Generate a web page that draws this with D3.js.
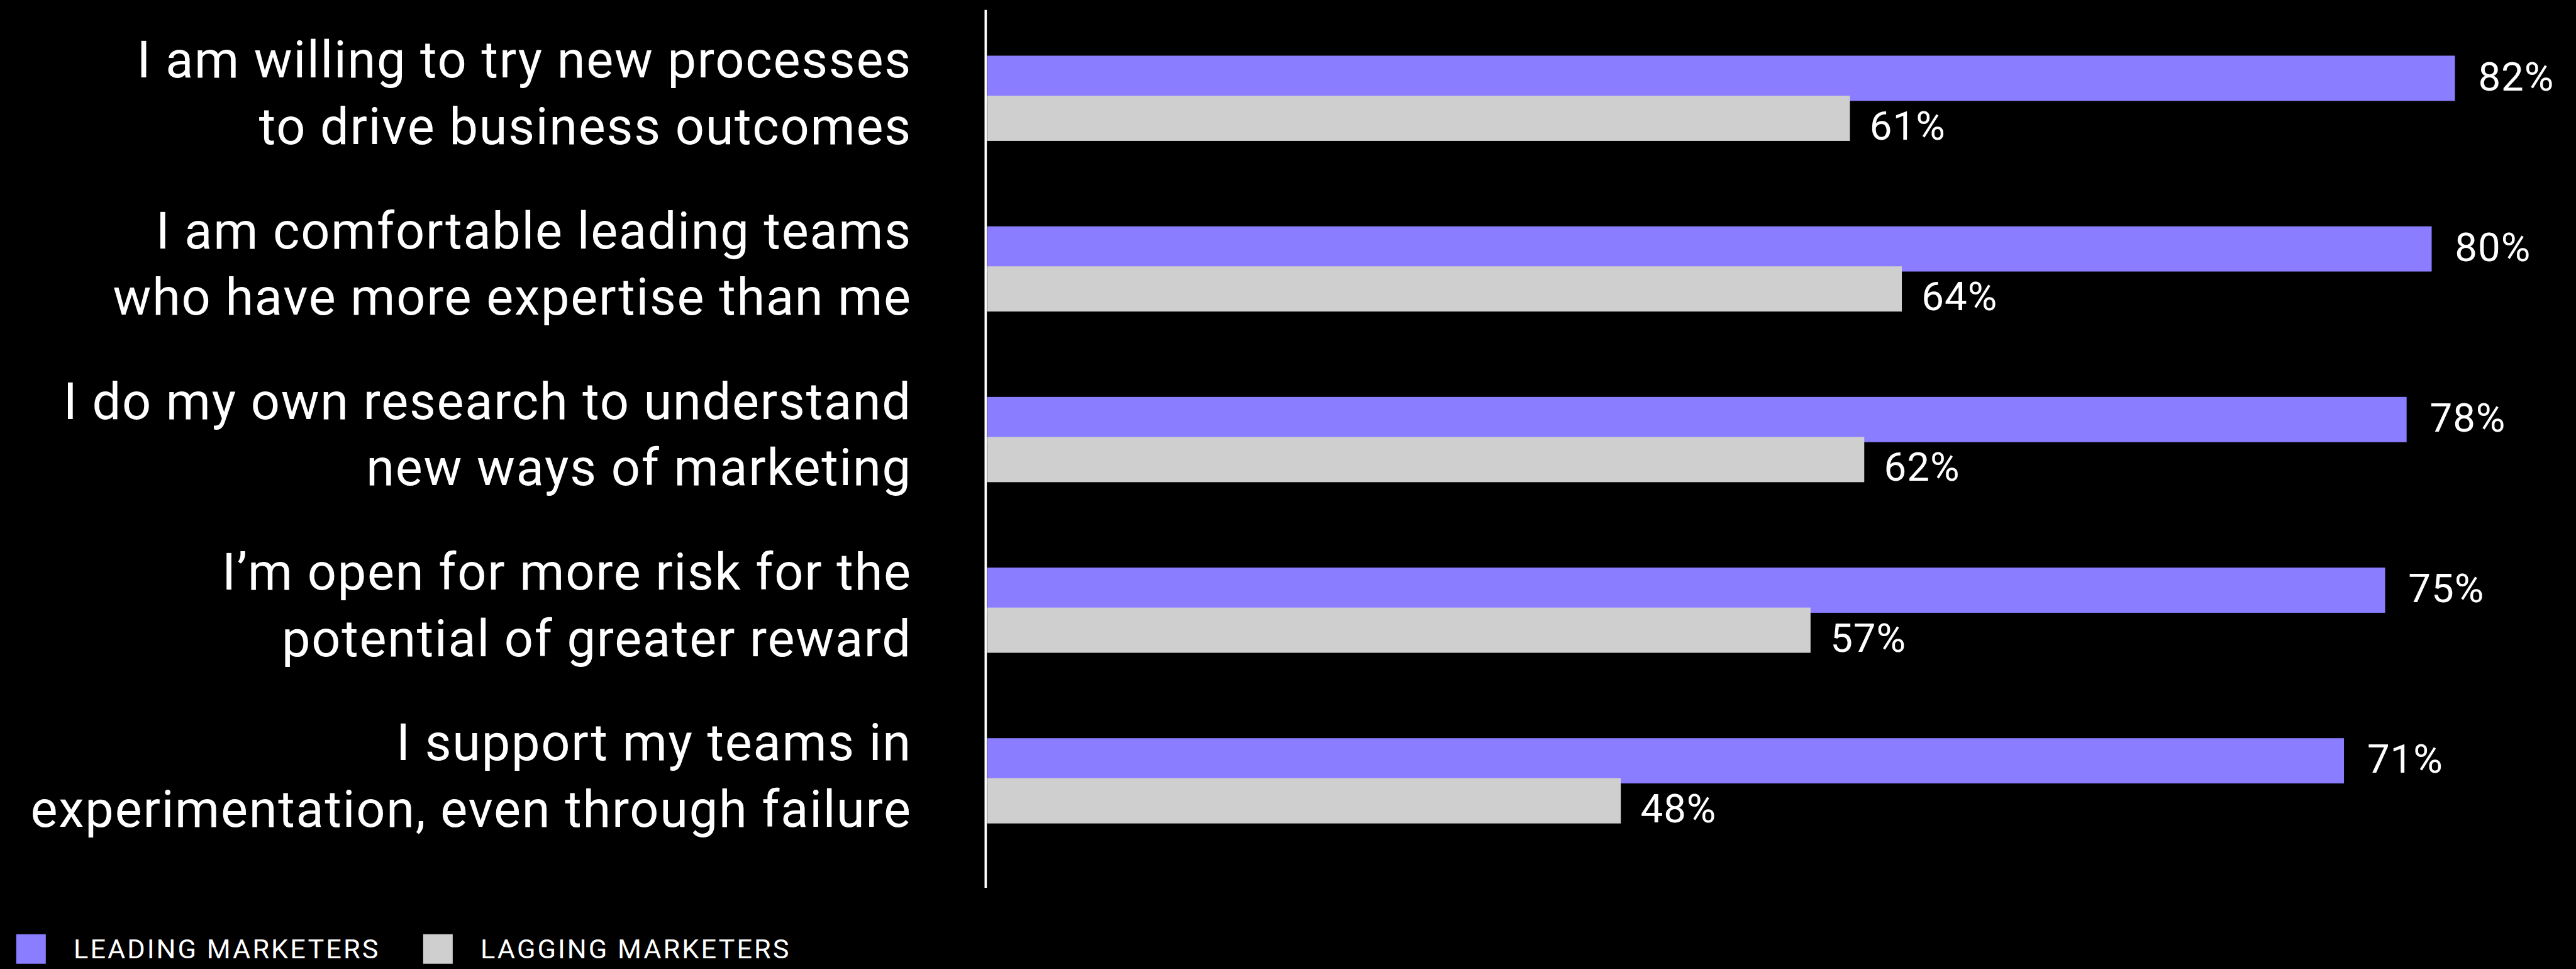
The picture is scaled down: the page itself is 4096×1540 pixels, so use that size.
<!DOCTYPE html>
<html>
<head>
<meta charset="utf-8">
<script src="https://cdn.jsdelivr.net/npm/d3@7"></script>
<style>
  html, body { margin: 0; padding: 0; background: #000; overflow: hidden; }
  svg { display: block; }
</style>
</head>
<body>
<div id="chart"></div>
<script>
// global const - drawn in reference units, viewBox scales it to the window
const width = 4444, height = 1671;
const colors = { background: "#000000", leading: "#8a7dff", lagging: "#cfcfcf", text: "#ffffff" };
const font = "Roboto, 'Noto Sans', sans-serif";

// data
const statements = [
    ["I am willing to try new processes", "to drive business outcomes"],
    ["I am comfortable leading teams", "who have more expertise than me"],
    ["I do my own research to understand", "new ways of marketing"],
    ["I\u2019m open for more risk for the", "potential of greater reward"],
    ["I support my teams in", "experimentation, even through failure"]
];
const seriesNames = ["LEADING MARKETERS", "LAGGING MARKETERS"];
const leadingValues = [82, 80, 78, 75, 71];
const laggingValues = [61, 64, 62, 57, 48];
// bar lengths as they are drawn in the source graphic (not to scale with the printed %)
const leadingBars = [82, 80.7, 79.3, 78.1, 75.8];
const laggingBars = [48.2, 51.1, 49.0, 46.0, 35.4];

const svg = d3.select("#chart")
    .append("svg")
    .attr("width", 4096)
    .attr("height", 1540)
    .attr("viewBox", `0 0 ${width} ${height}`)
    .attr("preserveAspectRatio", "none")
    .style("background-color", colors.background);

const x = d3.scaleLinear()
    .domain([0, 100])
    .range([1703, 1703 + 3088]);

const y = d3.scaleBand()
    .domain(d3.range(statements.length))
    .range([60, 1531.25]);

const barH = 78;
const leadTop = i => y(i) + 36;
const lagTop = i => y(i) + 36 + 69;   // lagging bar overlaps the leading one a little

// leading bars
svg.selectAll(".lead")
    .data(leadingBars)
    .join("rect")
    .attr("class", "lead")
    .attr("x", x(0))
    .attr("y", (d, i) => leadTop(i))
    .attr("width", d => x(d) - x(0))
    .attr("height", barH)
    .attr("fill", colors.leading);

// lagging bars
svg.selectAll(".lag")
    .data(laggingBars)
    .join("rect")
    .attr("class", "lag")
    .attr("x", x(0))
    .attr("y", (d, i) => lagTop(i))
    .attr("width", d => x(d) - x(0))
    .attr("height", barH)
    .attr("fill", colors.lagging);

// value labels
svg.selectAll(".leadLabel")
    .data(leadingValues)
    .join("text")
    .attr("class", "leadLabel")
    .attr("x", (d, i) => x(leadingBars[i]) + 40)
    .attr("y", (d, i) => leadTop(i) + 60)
    .attr("fill", colors.text)
    .style("font-family", font)
    .style("font-weight", 400)
    .style("font-size", "69px")
    .style("letter-spacing", "1px")
    .text(d => d + "%");

svg.selectAll(".lagLabel")
    .data(laggingValues)
    .join("text")
    .attr("class", "lagLabel")
    .attr("x", (d, i) => x(laggingBars[i]) + 34)
    .attr("y", (d, i) => lagTop(i) + 76)
    .attr("fill", colors.text)
    .style("font-family", font)
    .style("font-weight", 400)
    .style("font-size", "69px")
    .style("letter-spacing", "1px")
    .text(d => d + "%");

// statement labels, two lines each, right aligned
const cats = svg.selectAll(".cat")
    .data(statements)
    .join("text")
    .attr("class", "cat")
    .attr("text-anchor", "end")
    .attr("fill", colors.text)
    .style("font-family", font)
    .style("font-weight", 400)
    .style("font-size", "88px")
    .style("letter-spacing", "1.9px");

cats.selectAll("tspan")
    .data((d, i) => d.map((line, j) => ({ line, i, j })))
    .join("tspan")
    .attr("x", 1573)
    .attr("y", d => leadTop(d.i) + 38 + d.j * 114.5)
    .text(d => d.line);

// axis line
svg.append("line")
    .attr("x1", 1700.5)
    .attr("x2", 1700.5)
    .attr("y1", 17)
    .attr("y2", 1531)
    .attr("stroke", colors.text)
    .attr("stroke-width", 4);

// legend
const legend = svg.selectAll(".legend")
    .data(seriesNames)
    .join("g")
    .attr("class", "legend")
    .attr("transform", (d, i) => `translate(${28 + i * 702}, 1611)`);

legend.append("rect")
    .attr("width", 51)
    .attr("height", 51)
    .attr("fill", (d, i) => i == 0 ? colors.leading : colors.lagging);

legend.append("text")
    .attr("x", 99)
    .attr("y", 42)
    .attr("fill", colors.text)
    .style("font-family", font)
    .style("font-weight", 400)
    .style("font-size", "47px")
    .style("letter-spacing", "3.3px")
    .text(d => d);
</script>
</body>
</html>
